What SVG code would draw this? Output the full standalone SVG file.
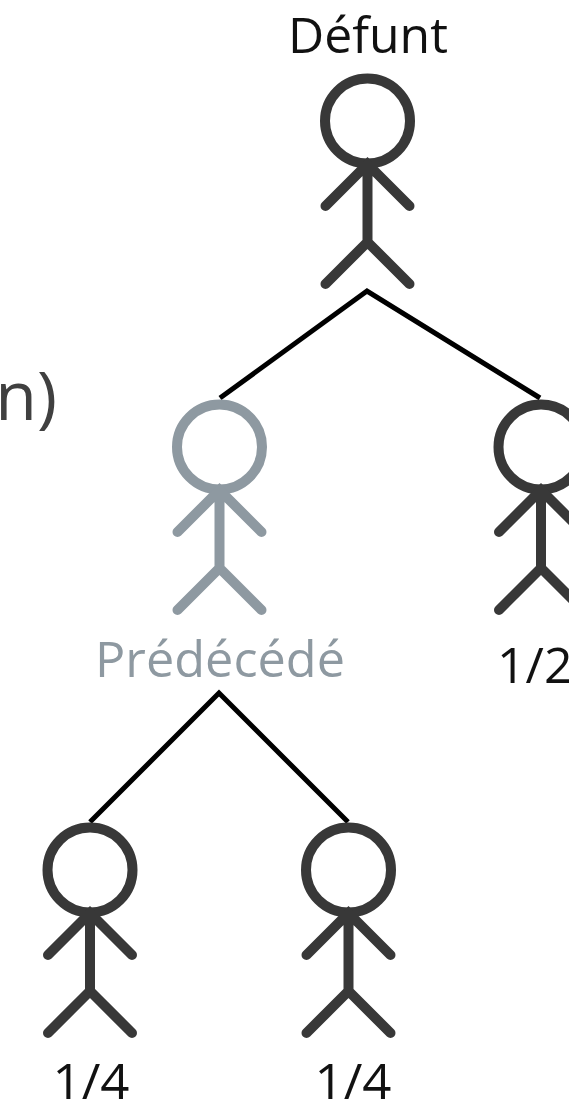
<svg xmlns="http://www.w3.org/2000/svg" width="569" height="1107" viewBox="0 0 569 1107">
  <style>
    .fig { fill: none; stroke: #383838; stroke-width: 10; stroke-linecap: round; stroke-linejoin: miter; }
    .fig.muted { stroke: #8E99A1; }
    .lbl { font-family: "Open Sans", "Noto Sans", "Liberation Sans", sans-serif; font-size: 50px; fill: #111; }
    .lbl.muted { fill: #8E99A1; }
    .conn { fill: none; stroke: #000; stroke-width: 5; stroke-linejoin: miter; }
  </style>
  <defs>
    <g id="person">
      <circle cx="0" cy="0" r="42.5"/>
      <path d="M0 44V121M-42 85L0 43L42 85M-42 163L0 121L42 163"/>
    </g>
  </defs>
  <g id="connectors">
    <path class="conn" d="M220 398L367 291L540 398"/>
    <path class="conn" d="M90 822L219 693L348 822"/>
  </g>
  <g id="partial-text"><text class="lbl" x="57" y="420" text-anchor="end" style="fill:#404040;font-size:68px">n)</text></g>
  <g id="defunt"><use href="#person" class="fig" x="367.5" y="121"/><text class="lbl" x="368" y="53" text-anchor="middle" textLength="160" lengthAdjust="spacingAndGlyphs">Défunt</text></g>
  <g id="predecede"><use href="#person" class="fig muted" x="219.5" y="447"/><text class="lbl muted" x="220" y="677" text-anchor="middle" textLength="250" lengthAdjust="spacingAndGlyphs">Prédécédé</text></g>
  <g id="enfant"><use href="#person" class="fig" x="541" y="447"/><text class="lbl" x="497" y="683">1/2</text></g>
  <g id="petit-enfant-1"><use href="#person" class="fig" x="90" y="870"/><text class="lbl" x="91" y="1099" text-anchor="middle" textLength="77" lengthAdjust="spacingAndGlyphs">1/4</text></g>
  <g id="petit-enfant-2"><use href="#person" class="fig" x="348.5" y="870"/><text class="lbl" x="353" y="1099" text-anchor="middle" textLength="77" lengthAdjust="spacingAndGlyphs">1/4</text></g>
</svg>
